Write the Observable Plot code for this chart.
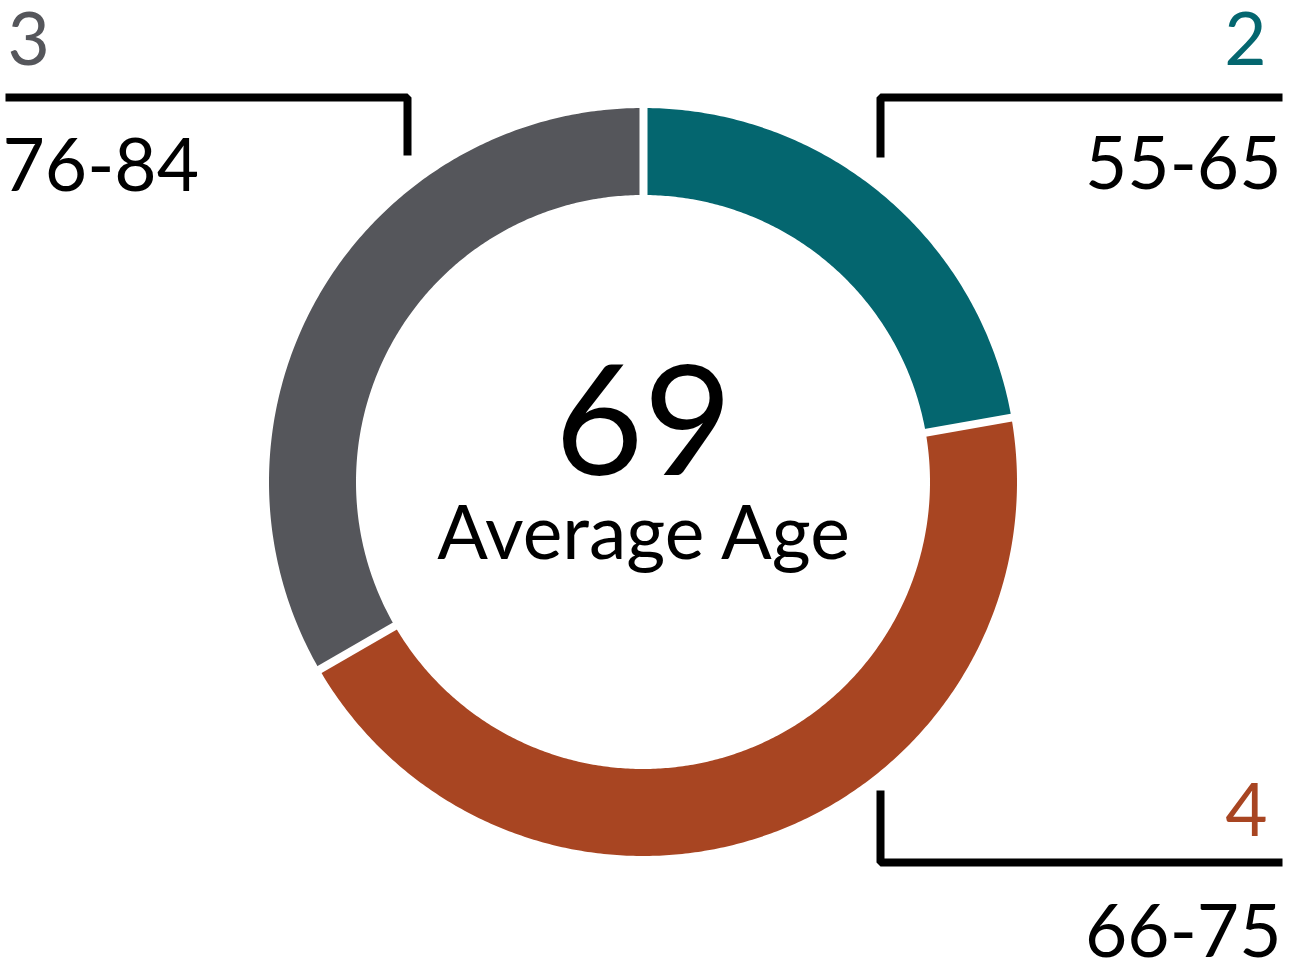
<!DOCTYPE html>
<html>
<head>
<meta charset="utf-8">
<script src="https://cdn.jsdelivr.net/npm/d3@7"></script>
<script src="https://cdn.jsdelivr.net/npm/@observablehq/plot@0.6"></script>
<style>
  html, body { margin: 0; padding: 0; background: #fff; }
  #chart svg { display: block; }
</style>
</head>
<body>
<div id="chart"></div>
<script>
// ---- data ----
const ageGroups = ["55-65", "66-75", "76-84"];
const counts = [2, 4, 3];
const segmentColors = ["#04666F", "#A84522", "#55565B"];
const averageAge = "69";
const centerLabel = "Average Age";

// ---- layout ----
const W = 1294, H = 977;
const cx = 643, cy = 482, R = 374, r = 287, gap = 8;

const pie = d3.pie().sort(null).value(d => d.count);
const slices = pie(ageGroups.map((g, i) => ({group: g, count: counts[i]})));

// annular sector outline points (outer -> x1,y1 ; inner -> x2,y2)
const arcPts = [];
for (const s of slices) {
  const n = Math.max(2, Math.ceil((s.endAngle - s.startAngle) / (Math.PI / 360)));
  for (let k = 0; k <= n; k++) {
    const t = s.startAngle + (s.endAngle - s.startAngle) * k / n;
    arcPts.push({
      group: s.data.group,
      x1: cx + R * Math.sin(t), y1: cy - R * Math.cos(t),
      x2: cx + r * Math.sin(t), y2: cy - r * Math.cos(t)
    });
  }
}
// white separators at slice boundaries
const seps = slices.map(s => ({
  x1: cx + (r - 4) * Math.sin(s.startAngle), y1: cy - (r - 4) * Math.cos(s.startAngle),
  x2: cx + (R + 4) * Math.sin(s.startAngle), y2: cy - (R + 4) * Math.cos(s.startAngle)
}));

// bracket leaders per group
const brackets = [
  {group: "55-65", pts: [[1282, 97], [880, 97], [880, 157]]},
  {group: "66-75", pts: [[880, 790], [880, 862], [1282, 862]]},
  {group: "76-84", pts: [[5, 97], [407, 97], [407, 155]]}
];
const bracketPts = brackets.flatMap(b => b.pts.map(([x, y]) => ({group: b.group, x, y})));

// label placement per group
const labelPos = {
  "55-65": {anchor: "end", cx: 1266, cy: 64, lx: 1281, ly: 188},
  "66-75": {anchor: "end", cx: 1267, cy: 835, lx: 1281, ly: 956},
  "76-84": {anchor: "start", cx: 7, cy: 64, lx: 2, ly: 190}
};
const labels = ageGroups.map((g, i) => ({group: g, count: counts[i], color: segmentColors[i], ...labelPos[g]}));

const font = "Lato, 'Open Sans', sans-serif";
const labelSize = 73;

const chart = Plot.plot({
  width: W, height: H,
  margin: 0,
  x: {domain: [0, W], range: [0, W], axis: null},
  y: {domain: [0, H], range: [0, H], axis: null},
  color: {domain: ageGroups, range: segmentColors},
  style: {fontFamily: font, background: "white"},
  marks: [
    Plot.area(arcPts, {x1: "x1", y1: "y1", x2: "x2", y2: "y2", z: "group", fill: "group"}),
    Plot.link(seps, {x1: "x1", y1: "y1", x2: "x2", y2: "y2", stroke: "white", strokeWidth: gap, strokeLinecap: "butt"}),
    Plot.line(bracketPts, {x: "x", y: "y", z: "group", stroke: "black", strokeWidth: 8, strokeLinejoin: "miter", strokeLinecap: "butt"}),
    Plot.text(labels.filter(d => d.anchor === "end"), {x: "cx", y: "cy", text: d => String(d.count), fill: "group", fontSize: labelSize, textAnchor: "end", lineAnchor: "bottom"}),
    Plot.text(labels.filter(d => d.anchor === "start"), {x: "cx", y: "cy", text: d => String(d.count), fill: "group", fontSize: labelSize, textAnchor: "start", lineAnchor: "bottom"}),
    Plot.text(labels.filter(d => d.anchor === "end"), {x: "lx", y: "ly", text: "group", fill: "black", fontSize: labelSize, textAnchor: "end", lineAnchor: "bottom"}),
    Plot.text(labels.filter(d => d.anchor === "start"), {x: "lx", y: "ly", text: "group", fill: "black", fontSize: labelSize, textAnchor: "start", lineAnchor: "bottom"}),
    Plot.text([averageAge], {x: () => cx, y: () => 474, text: d => d, fill: "black", fontSize: 153, textAnchor: "middle", lineAnchor: "bottom"}),
    Plot.text([centerLabel], {x: () => cx, y: () => 558, text: d => d, fill: "black", fontSize: 75, textAnchor: "middle", lineAnchor: "bottom"})
  ]
});
document.getElementById("chart").appendChild(chart);
</script>
</body>
</html>
